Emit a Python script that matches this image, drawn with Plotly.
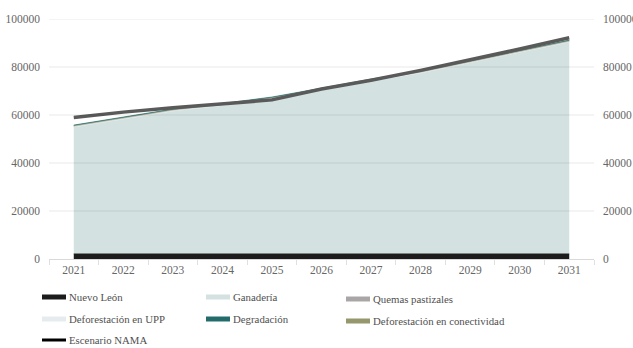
import plotly.graph_objects as go

# Emisiones por año (tCO2e), áreas apiladas + escenario NAMA
years = ["2021", "2022", "2023", "2024", "2025", "2026", "2027", "2028", "2029", "2030", "2031"]
nuevo_leon = [2200, 2200, 2200, 2200, 2200, 2200, 2200, 2200, 2200, 2200, 2200]
ganaderia = [52700, 55900, 59400, 61700, 64400, 68100, 71900, 75200, 79400, 83900, 88100]
deforestacion_upp = [200, 200, 200, 200, 200, 200, 200, 200, 200, 200, 200]
quemas_pastizales = [250, 250, 250, 250, 250, 250, 250, 250, 250, 250, 250]
deforestacion_conectividad = [150, 150, 150, 150, 150, 150, 150, 150, 150, 150, 150]
degradacion = [300, 300, 300, 300, 300, 300, 300, 300, 300, 300, 300]
escenario_nama = [59000, 61200, 63000, 64800, 66300, 70800, 74500, 78600, 83000, 87500, 92200]
y_ticks = [0, 20000, 40000, 60000, 80000, 100000]

FONT = "Liberation Serif"
W, H = 633, 348
ML, MR, MT, MB = 49, 39, 19, 89

areas = [
    ("Nuevo León", nuevo_leon, "#1c1c1c"),
    ("Ganadería", ganaderia, "#d4e1e1"),
    ("Deforestación en UPP", deforestacion_upp, "#e6ecee"),
    ("Quemas pastizales", quemas_pastizales, "#c9c6c1"),
    ("Deforestación en conectividad", deforestacion_conectividad, "#a9aa8a"),
    ("Degradación", degradacion, "#246b6b"),
]

fig = go.Figure()
for name, vals, color in areas:
    fig.add_trace(go.Scatter(
        x=years, y=vals, name=name, stackgroup="emisiones", mode="lines",
        line=dict(color=color, width=0.6), fillcolor=color, showlegend=False,
    ))

fig.add_trace(go.Scatter(
    x=years, y=escenario_nama, name="Escenario NAMA", mode="lines",
    line=dict(color="#5a5a5a", width=3.5), showlegend=False,
))
# copia invisible para el eje derecho
fig.add_trace(go.Scatter(
    x=years, y=escenario_nama, yaxis="y2", mode="lines",
    line=dict(width=0), opacity=0, hoverinfo="skip", showlegend=False,
))

# líneas de cuadrícula encima de las áreas
for v in y_ticks[1:]:
    fig.add_shape(type="line", xref="paper", yref="y", x0=0, x1=1, y0=v, y1=v,
                  line=dict(color="rgba(0,0,0,0.09)", width=1), layer="above")

# leyenda en tres columnas
plot_w = W - ML - MR
plot_h = H - MT - MB


def px_to_paper(px, py):
    return (px - ML) / plot_w, (H - MB - py) / plot_h


legend_items = [
    ("Nuevo León", "#1c1c1c", "bar", 42, 297),
    ("Ganadería", "#d4e1e1", "bar", 206, 297),
    ("Quemas pastizales", "#aba6a6", "bar", 346, 299),
    ("Deforestación en UPP", "#e6ecee", "bar", 42, 319),
    ("Degradación", "#246b6b", "bar", 206, 319),
    ("Deforestación en conectividad", "#95976d", "bar", 346, 321),
    ("Escenario NAMA", "#000000", "line", 42, 340),
]
for label, color, kind, sx, sy in legend_items:
    x0, y0 = px_to_paper(sx, sy - 2.5)
    x1, y1 = px_to_paper(sx + 24, sy + 2.5)
    if kind == "bar":
        fig.add_shape(type="rect", xref="paper", yref="paper", x0=x0, x1=x1, y0=y0, y1=y1,
                      fillcolor=color, line=dict(width=0))
    else:
        ym = (y0 + y1) / 2
        fig.add_shape(type="line", xref="paper", yref="paper", x0=x0, x1=x1, y0=ym, y1=ym,
                      line=dict(color=color, width=3))
    tx, ty = px_to_paper(sx + 25, sy)
    fig.add_annotation(x=tx, y=ty, xref="paper", yref="paper", text=label, showarrow=False,
                       xanchor="left", yanchor="middle",
                       font=dict(family=FONT, size=10.8, color="#505050"))

axis_font = dict(family=FONT, size=11.5, color="#666666")
fig.update_layout(
    width=W, height=H,
    margin=dict(l=ML, r=MR, t=MT, b=MB),
    paper_bgcolor="white", plot_bgcolor="white",
    font=dict(family=FONT),
    xaxis=dict(
        type="category", tickson="boundaries", ticks="outside", ticklen=5,
        tickcolor="#e0e0e0", showgrid=False, showline=True, linecolor="#d9d9d9",
        tickfont=axis_font, range=[-0.5, 10.5], fixedrange=True, automargin=False,
    ),
    yaxis=dict(
        range=[0, 100000], tickvals=y_ticks, tickformat="d", showgrid=False, zeroline=False,
        tickfont=axis_font, ticks="", ticklabelstandoff=8, fixedrange=True, automargin=False,
    ),
    yaxis2=dict(
        range=[0, 100000], tickvals=y_ticks, tickformat="d", showgrid=False, zeroline=False,
        overlaying="y", side="right", tickfont=axis_font, ticks="", ticklabelstandoff=8,
        fixedrange=True, automargin=False,
    ),
    showlegend=False,
)

fig.write_html("out.html")
